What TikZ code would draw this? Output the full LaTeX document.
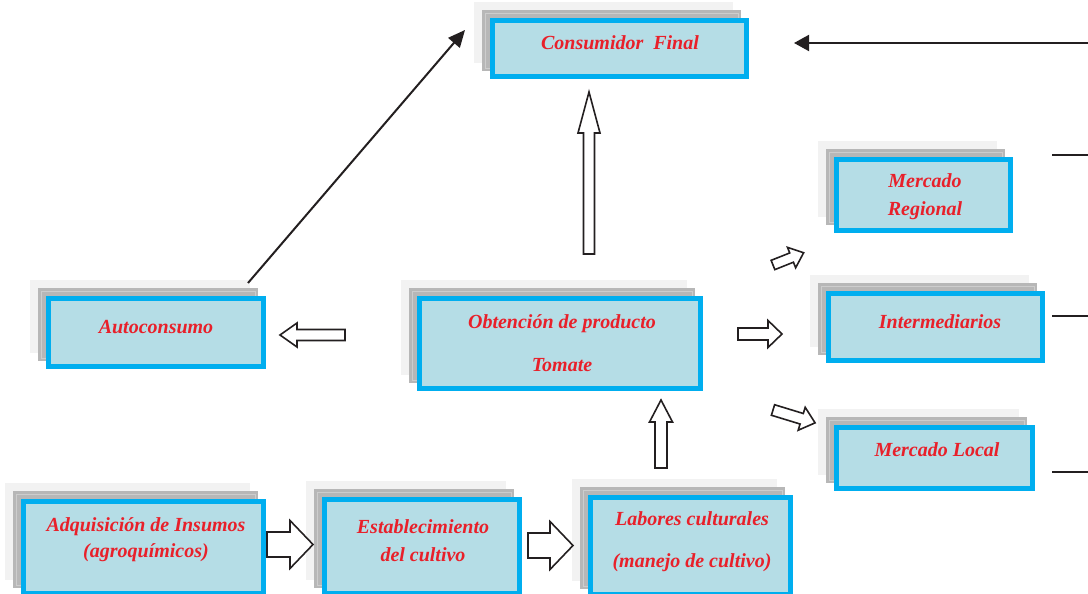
\documentclass[tikz,border=0pt]{standalone}
\usepackage{fontspec}
\setmainfont{Liberation Serif}
\usetikzlibrary{arrows.meta,backgrounds,calc}
\definecolor{bordblue}{HTML}{00AEEF}
\definecolor{boxfill}{HTML}{B5DDE6}
\definecolor{txtred}{HTML}{E8202A}
\definecolor{shgray}{HTML}{B7B7B7}
\definecolor{shline}{HTML}{CDCDCD}
\definecolor{shlight}{HTML}{F2F2F2}
\definecolor{ink}{HTML}{231F20}
\tikzset{
  fbox/.style={draw=bordblue, fill=boxfill, line width=5pt, inner sep=0pt},
  tx/.style={text=txtred, align=center, inner sep=0pt, font=\bfseries\itshape\fontsize{20}{26}\selectfont},
  blk/.style={draw=ink, fill=white, line width=1.6pt, line join=miter},
  conn/.style={draw=ink, line width=2pt},
  pics/barrow/.style n args={4}{code={
    \draw[blk] (0,-#1) -- ({#4-#3},-#1) -- ({#4-#3},-#2) -- (#4,0) -- ({#4-#3},#2) -- ({#4-#3},#1) -- (0,#1) -- cycle;
  }}
}
\begin{document}
\begin{tikzpicture}[x=1pt,y=1pt]
\useasboundingbox (0,0) rectangle (1088,594);
% front boxes
\node[fbox, minimum width=254pt, minimum height=56pt] (cons) at (619.5,545.5) {};
\node[fbox, minimum width=174pt, minimum height=71pt] (mreg) at (923.5,399) {};
\node[fbox, minimum width=214pt, minimum height=67pt] (inter) at (935.5,267) {};
\node[fbox, minimum width=196pt, minimum height=61pt] (mloc) at (934.5,136) {};
\node[fbox, minimum width=215pt, minimum height=68pt] (auto) at (156,261.5) {};
\node[fbox, minimum width=281pt, minimum height=90pt] (obt) at (560,250.5) {};
\node[fbox, minimum width=240pt, minimum height=92pt] (adq) at (143.5,46.5) {};
\node[fbox, minimum width=195pt, minimum height=94pt] (est) at (422,47.5) {};
\node[fbox, minimum width=200pt, minimum height=97pt] (lab) at (690.5,48) {};
% shadows
\begin{scope}[on background layer]
\foreach \n in {cons,mreg,inter,mloc,auto,obt,adq,est,lab}{
  \fill[shlight] ($(\n.south west)+(-16,16)$) rectangle ($(\n.north east)+(-16,16)$);
  \fill[shgray] ($(\n.south west)+(-8,8)$) rectangle ($(\n.north east)+(-8,8)$);
  \draw[shline, line width=0.8pt] ($(\n.south west)+(-5,11)$) rectangle ($(\n.north east)+(-11,5)$);
}
\end{scope}
% texts
\node[tx] (tcons) at (620,551) {Consumidor\ \ Final};
\node[tx] (tmreg) at (925,397) {Mercado\\[2pt]Regional};
\node[tx] (tinter) at (940,272) {Intermediarios};
\node[tx] (tmloc) at (937,144) {Mercado Local};
\node[tx] (tauto) at (156,267) {Autoconsumo};
\node[tx] (tobt) at (562,251) {Obtención de producto\\[17pt]Tomate};
\node[tx] (tadq) at (146,54) {Adquisición de Insumos\\(agroquímicos)};
\node[tx] (test) at (423,53) {Establecimiento\\[2pt]del cultivo};
\node[tx] (tlab) at (692,52) {Labores culturales\\[16pt](manejo de cultivo)};
% block arrows
\pic[rotate=180] (ba) at (345,259) {barrow={5.5}{12}{17}{65}};
\pic (bb) at (738,260) {barrow={6}{13.5}{14}{44}};
\pic[rotate=21.8] (bc) at (773,329) {barrow={5}{11}{13}{33}};
\pic[rotate=-17] (bd) at (773,184) {barrow={5.5}{12}{14}{44}};
\pic[rotate=90] (be) at (661,126) {barrow={6}{11.5}{22}{68}};
\pic[rotate=90] (bf) at (589,340) {barrow={5.5}{11}{41}{162}};
\pic (bg) at (267,49.5) {barrow={12.5}{24}{23}{46}};
\pic (bh) at (528,48.5) {barrow={12.5}{24}{23}{45}};
% line connectors
\coordinate (d1) at ([shift={(-18,13)}]auto.north east);
\coordinate (d2) at ([shift={(-25,-12)}]cons.north west);
\draw[conn, -{Triangle[length=17pt,width=15pt]}] (d1) -- (d2);
\coordinate (rin) at (1088,551);
\coordinate (rtip) at ([xshift=45pt]cons.east |- rin);
\draw[conn, -{Triangle[length=15pt,width=16pt]}] (rin) -- (rtip);
\coordinate (l1a) at (1052,439); \coordinate (l1b) at (1088,439);
\coordinate (l2a) at (1052,278); \coordinate (l2b) at (1088,278);
\coordinate (l3a) at (1052,122); \coordinate (l3b) at (1088,122);
\draw[conn, line width=1.5pt] (l1a) -- (l1b);
\draw[conn, line width=1.5pt] (l2a) -- (l2b);
\draw[conn, line width=1.5pt] (l3a) -- (l3b);
\end{tikzpicture}
\end{document}
